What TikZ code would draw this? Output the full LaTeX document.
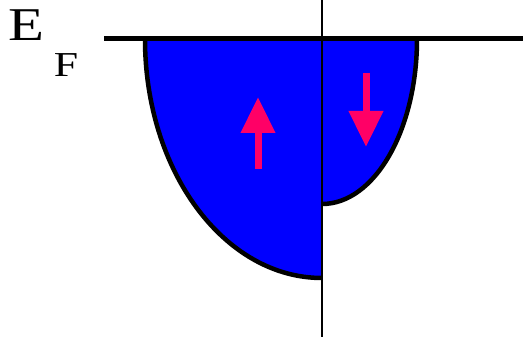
\documentclass[tikz,border=0pt]{standalone}
\usepackage{fontspec}
\setmainfont{Liberation Serif}
\usetikzlibrary{arrows.meta}
\definecolor{spinred}{RGB}{255,0,102}
\begin{document}
\begin{tikzpicture}[x=1pt,y=-1pt,
    label/.style={inner sep=0pt,xscale=1.25},
    band/.style={fill=blue},
    edge/.style={line width=4.5pt},
    spin/.style={spinred,line width=7pt,-{Triangle[width=33pt,length=36pt]}}]
    \useasboundingbox (0,0) rectangle (523,337);
    % Fermi level label
    \node[label,font=\fontsize{47}{47}\selectfont] (E) at (26,25.5) {E};
    \node[label,font=\fontsize{35}{35}\selectfont] (F) at (66,65.5) {F};
    % bands (majority left, minority right)
    \coordinate (O) at (322,39);
    \fill[band] (O) -- (145,39) arc[start angle=180,end angle=90,x radius=177,y radius=239] -- cycle;
    \fill[band] (O) -- (417,39) arc[start angle=0,end angle=90,x radius=95,y radius=165] -- cycle;
    \draw[edge] (145,39) arc[start angle=180,end angle=90,x radius=177,y radius=239];
    \draw[edge] (417,39) arc[start angle=0,end angle=90,x radius=95,y radius=165];
    % axes
    \coordinate (fl) at (104,39);
    \coordinate (fr) at (523,39);
    \coordinate (vt) at (322,0);
    \coordinate (vb) at (322,337);
    \draw[line width=5pt] (fl) -- (fr);
    \draw[line width=2pt] (vt) -- (vb);
    % spin arrows
    \coordinate (up0) at (258,169);
    \coordinate (up1) at (258,97);
    \coordinate (dn0) at (366,73);
    \coordinate (dn1) at (366,147);
    \draw[spin] (up0) -- (up1);
    \draw[spin] (dn0) -- (dn1);
\end{tikzpicture}
\end{document}
